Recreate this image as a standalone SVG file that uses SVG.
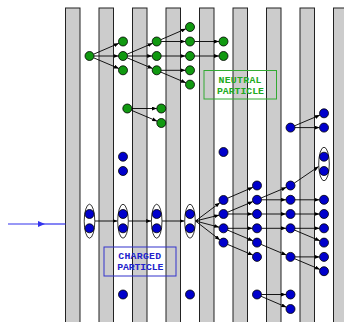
<svg xmlns="http://www.w3.org/2000/svg" width="344" height="322" viewBox="0 0 344 322">
<style>
.plate{fill:#cccccc;stroke:#222;stroke-width:1}
.g{fill:#119911;stroke:#000;stroke-width:0.8}
.b{fill:#0000cc;stroke:#000;stroke-width:0.8}
.bunch{fill:#fff;stroke:#000;stroke-width:0.8}
.e{stroke:#000;stroke-width:0.9;fill:none;marker-end:url(#ah)}
.lbl{font-family:"Liberation Mono","DejaVu Sans Mono",monospace;font-weight:bold;font-size:9.8px;text-anchor:middle}
</style>
<defs>
<marker id="ah" markerUnits="userSpaceOnUse" markerWidth="5" markerHeight="4" refX="5" refY="2" orient="auto"><path d="M0,0 L5,2 L0,4 z" fill="#000"/></marker>
<marker id="ahb" markerUnits="userSpaceOnUse" markerWidth="7" markerHeight="6" refX="5" refY="3" orient="auto"><path d="M0,0 L7,3 L0,6 z" fill="#3333ee"/></marker>
</defs>
<rect width="344" height="322" fill="#fff"/>
<g id="plates">
<rect class="plate" x="65.5" y="8" width="14.5" height="320"/>
<rect class="plate" x="99" y="8" width="14.5" height="320"/>
<rect class="plate" x="132.5" y="8" width="14.5" height="320"/>
<rect class="plate" x="166" y="8" width="14.5" height="320"/>
<rect class="plate" x="199.5" y="8" width="14.5" height="320"/>
<rect class="plate" x="233" y="8" width="14.5" height="320"/>
<rect class="plate" x="266.5" y="8" width="14.5" height="320"/>
<rect class="plate" x="300" y="8" width="14.5" height="320"/>
<rect class="plate" x="333.5" y="8" width="14.5" height="320"/>
</g>
<g id="labels">
<g id="neutral-label">
<rect x="204" y="70.5" width="72.5" height="28.5" fill="none" stroke="#33aa33" stroke-width="1"/>
<text class="lbl" x="240" y="82.7" fill="#22aa22" textLength="43" lengthAdjust="spacing">NEUTRAL</text>
<text class="lbl" x="240.5" y="93.7" fill="#22aa22" textLength="47" lengthAdjust="spacing">PARTICLE</text>
</g>
<g id="charged-label">
<rect x="104" y="247" width="72" height="29" fill="none" stroke="#3333cc" stroke-width="1"/>
<text class="lbl" x="139.7" y="258.6" fill="#2222cc" textLength="43" lengthAdjust="spacing">CHARGED</text>
<text class="lbl" x="140.3" y="270.2" fill="#2222cc" textLength="46" lengthAdjust="spacing">PARTICLE</text>
</g>
</g>
<g id="connectors">
<line x1="8" y1="224" x2="43" y2="224" stroke="#3333ee" stroke-width="1.2" marker-end="url(#ahb)"/>
<line x1="43" y1="224" x2="65.5" y2="224" stroke="#3333ee" stroke-width="1.2"/>
<line class="e" x1="93.6" y1="54.2" x2="118.9" y2="43.3"/>
<line class="e" x1="94" y1="56" x2="118.5" y2="56"/>
<line class="e" x1="93.6" y1="57.8" x2="118.9" y2="68.5"/>
<line class="e" x1="127.1" y1="54.2" x2="152.6" y2="43.3"/>
<line class="e" x1="127.5" y1="56" x2="152.2" y2="56"/>
<line class="e" x1="127.1" y1="57.8" x2="152.6" y2="68.5"/>
<line class="e" x1="160.8" y1="39.7" x2="185.9" y2="28.8"/>
<line class="e" x1="161.2" y1="41.5" x2="185.5" y2="41.5"/>
<line class="e" x1="161.2" y1="56" x2="185.5" y2="56"/>
<line class="e" x1="161.2" y1="70.3" x2="185.5" y2="70.3"/>
<line class="e" x1="160.8" y1="72.1" x2="185.9" y2="82.8"/>
<line class="e" x1="194.5" y1="41.5" x2="219" y2="41.5"/>
<line class="e" x1="194.5" y1="56" x2="219" y2="56"/>
<line class="e" x1="131.8" y1="108.5" x2="156.8" y2="108.5"/>
<line class="e" x1="131.4" y1="110.3" x2="157.2" y2="121.2"/>
<line class="e" x1="95" y1="221" x2="117.5" y2="221"/>
<line class="e" x1="128.5" y1="221" x2="151.2" y2="221"/>
<line class="e" x1="162.2" y1="221" x2="184.5" y2="221"/>
<line class="e" x1="195.5" y1="221" x2="219.9" y2="202.7"/>
<line class="e" x1="195.5" y1="221" x2="219.1" y2="215.1"/>
<line class="e" x1="195.5" y1="221" x2="219.1" y2="227.2"/>
<line class="e" x1="195.5" y1="221" x2="219.9" y2="239.9"/>
<line class="e" x1="227.6" y1="198.2" x2="252.9" y2="187.3"/>
<line class="e" x1="227.6" y1="212.2" x2="252.9" y2="201.6"/>
<line class="e" x1="228" y1="214" x2="252.5" y2="214"/>
<line class="e" x1="228" y1="228.3" x2="252.5" y2="228.3"/>
<line class="e" x1="227.6" y1="230.1" x2="252.9" y2="240.8"/>
<line class="e" x1="227.6" y1="244.4" x2="252.9" y2="255.1"/>
<line class="e" x1="261.1" y1="198" x2="286.4" y2="187.3"/>
<line class="e" x1="261.5" y1="199.8" x2="286" y2="199.8"/>
<line class="e" x1="261.5" y1="214" x2="286" y2="214"/>
<line class="e" x1="261.5" y1="228.3" x2="286" y2="228.3"/>
<line class="e" x1="261.1" y1="244.4" x2="286.4" y2="255.1"/>
<line class="e" x1="261.5" y1="294.5" x2="286" y2="294.5"/>
<line class="e" x1="261.1" y1="296.3" x2="286.4" y2="307.2"/>
<line class="e" x1="294.3" y1="183.1" x2="318.6" y2="166.5"/>
<line class="e" x1="295" y1="199.8" x2="319.5" y2="199.8"/>
<line class="e" x1="295" y1="214" x2="319.5" y2="214"/>
<line class="e" x1="295" y1="228.3" x2="319.5" y2="228.3"/>
<line class="e" x1="294.6" y1="230.1" x2="319.9" y2="240.8"/>
<line class="e" x1="295" y1="256.9" x2="319.5" y2="256.9"/>
<line class="e" x1="294.6" y1="258.7" x2="319.9" y2="269.4"/>
<line class="e" x1="294.6" y1="125.8" x2="319.9" y2="115.1"/>
<line class="e" x1="295" y1="127.6" x2="319.5" y2="127.6"/>
</g>
<g id="green-nodes">
<g id="n0"><circle class="g" cx="89.5" cy="56" r="4.5"/></g>
<g id="n1a"><circle class="g" cx="123" cy="41.5" r="4.5"/></g>
<g id="n1b"><circle class="g" cx="123" cy="56" r="4.5"/></g>
<g id="n1c"><circle class="g" cx="123" cy="70.3" r="4.5"/></g>
<g id="n2a"><circle class="g" cx="156.7" cy="41.5" r="4.5"/></g>
<g id="n2b"><circle class="g" cx="156.7" cy="56" r="4.5"/></g>
<g id="n2c"><circle class="g" cx="156.7" cy="70.3" r="4.5"/></g>
<g id="n3a"><circle class="g" cx="190" cy="27" r="4.5"/></g>
<g id="n3b"><circle class="g" cx="190" cy="41.5" r="4.5"/></g>
<g id="n3c"><circle class="g" cx="190" cy="56" r="4.5"/></g>
<g id="n3d"><circle class="g" cx="190" cy="70.3" r="4.5"/></g>
<g id="n3e"><circle class="g" cx="190" cy="84.6" r="4.5"/></g>
<g id="n4a"><circle class="g" cx="223.5" cy="41.5" r="4.5"/></g>
<g id="n4b"><circle class="g" cx="223.5" cy="56" r="4.5"/></g>
<g id="m0"><circle class="g" cx="127.3" cy="108.5" r="4.5"/></g>
<g id="m1"><circle class="g" cx="161.3" cy="108.5" r="4.5"/></g>
<g id="m2"><circle class="g" cx="161.3" cy="123" r="4.5"/></g>
</g>
<g id="blue-nodes">
<g id="bunch0"><ellipse class="bunch" cx="89.5" cy="221.2" rx="5.3" ry="17"/><circle class="b" cx="89.5" cy="214" r="4.5"/><circle class="b" cx="89.5" cy="228.3" r="4.5"/></g>
<g id="bunch1"><ellipse class="bunch" cx="123" cy="221.2" rx="5.3" ry="17"/><circle class="b" cx="123" cy="214" r="4.5"/><circle class="b" cx="123" cy="228.3" r="4.5"/></g>
<g id="bunch2"><ellipse class="bunch" cx="156.7" cy="221.2" rx="5.3" ry="17"/><circle class="b" cx="156.7" cy="214" r="4.5"/><circle class="b" cx="156.7" cy="228.3" r="4.5"/></g>
<g id="bunch3"><ellipse class="bunch" cx="190" cy="221.2" rx="5.3" ry="17"/><circle class="b" cx="190" cy="214" r="4.5"/><circle class="b" cx="190" cy="228.3" r="4.5"/></g>
<g id="bunch7"><ellipse class="bunch" cx="324" cy="164" rx="5.3" ry="16.8"/><circle class="b" cx="324" cy="156.7" r="4.5"/><circle class="b" cx="324" cy="171" r="4.5"/></g>
<g id="b1a"><circle class="b" cx="123" cy="156.7" r="4.5"/></g>
<g id="b1b"><circle class="b" cx="123" cy="171" r="4.5"/></g>
<g id="b1c"><circle class="b" cx="123" cy="294.5" r="4.5"/></g>
<g id="b3c"><circle class="b" cx="190" cy="294.5" r="4.5"/></g>
<g id="b4a"><circle class="b" cx="223.5" cy="152" r="4.5"/></g>
<g id="b4b"><circle class="b" cx="223.5" cy="200" r="4.5"/></g>
<g id="b4c"><circle class="b" cx="223.5" cy="214" r="4.5"/></g>
<g id="b4d"><circle class="b" cx="223.5" cy="228.3" r="4.5"/></g>
<g id="b4e"><circle class="b" cx="223.5" cy="242.6" r="4.5"/></g>
<g id="b5a"><circle class="b" cx="257" cy="185.5" r="4.5"/></g>
<g id="b5b"><circle class="b" cx="257" cy="199.8" r="4.5"/></g>
<g id="b5c"><circle class="b" cx="257" cy="214" r="4.5"/></g>
<g id="b5d"><circle class="b" cx="257" cy="228.3" r="4.5"/></g>
<g id="b5e"><circle class="b" cx="257" cy="242.6" r="4.5"/></g>
<g id="b5f"><circle class="b" cx="257" cy="256.9" r="4.5"/></g>
<g id="b5g"><circle class="b" cx="257" cy="294.5" r="4.5"/></g>
<g id="b6a"><circle class="b" cx="290.5" cy="127.6" r="4.5"/></g>
<g id="b6b"><circle class="b" cx="290.5" cy="185.5" r="4.5"/></g>
<g id="b6c"><circle class="b" cx="290.5" cy="199.8" r="4.5"/></g>
<g id="b6d"><circle class="b" cx="290.5" cy="214" r="4.5"/></g>
<g id="b6e"><circle class="b" cx="290.5" cy="228.3" r="4.5"/></g>
<g id="b6f"><circle class="b" cx="290.5" cy="256.9" r="4.5"/></g>
<g id="b6g"><circle class="b" cx="290.5" cy="294.5" r="4.5"/></g>
<g id="b6h"><circle class="b" cx="290.5" cy="309" r="4.5"/></g>
<g id="b7a"><circle class="b" cx="324" cy="113.3" r="4.5"/></g>
<g id="b7b"><circle class="b" cx="324" cy="127.6" r="4.5"/></g>
<g id="b7c"><circle class="b" cx="324" cy="199.8" r="4.5"/></g>
<g id="b7d"><circle class="b" cx="324" cy="214" r="4.5"/></g>
<g id="b7e"><circle class="b" cx="324" cy="228.3" r="4.5"/></g>
<g id="b7f"><circle class="b" cx="324" cy="242.6" r="4.5"/></g>
<g id="b7g"><circle class="b" cx="324" cy="256.9" r="4.5"/></g>
<g id="b7h"><circle class="b" cx="324" cy="271.2" r="4.5"/></g>
</g>
</svg>
